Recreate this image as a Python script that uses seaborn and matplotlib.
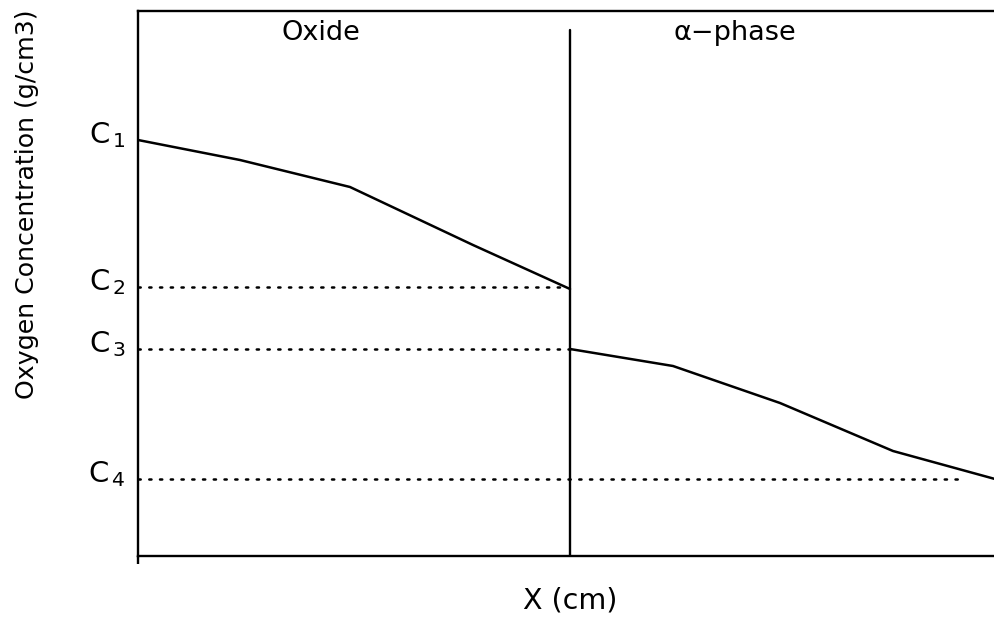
import matplotlib
matplotlib.use("Agg")
import matplotlib.pyplot as plt
import seaborn as sns
import pandas as pd

# Concentration profile across the oxide / alpha-phase layers
oxide_x = [0.0, 1.02, 2.12, 3.35, 4.32]
oxide_c = [4.16, 3.96, 3.69, 3.11, 2.67]
alpha_x = [4.32, 5.35, 6.42, 7.55, 8.57]
alpha_c = [2.07, 1.90, 1.53, 1.05, 0.77]

# Reference concentration levels and where their guide lines stop
levels = ["C1", "C2", "C3", "C4"]
level_values = [4.16, 2.69, 2.07, 0.77]
guide_ends = [None, 4.27, 4.32, 8.27]

interface_x = 4.32
region_labels = ["Oxide", "\u03b1\u2212phase"]
region_label_x = [1.83, 5.97]

sns.set_style("white")
plt.rcParams["font.family"] = ["DejaVu Sans"]
plt.rcParams["mathtext.fontset"] = "dejavusans"
plt.rcParams["text.color"] = "black"

fig = plt.figure(figsize=(9.95, 6.24), dpi=100)
ax = fig.add_axes([138 / 995, 68 / 624, 857 / 995, 545 / 624])

oxide = pd.DataFrame({"x": oxide_x, "c": oxide_c})
alpha = pd.DataFrame({"x": alpha_x, "c": alpha_c})
sns.lineplot(data=oxide, x="x", y="c", color="black", lw=1.8,
             sort=False, estimator=None, ax=ax)
sns.lineplot(data=alpha, x="x", y="c", color="black", lw=1.8,
             sort=False, estimator=None, ax=ax)

# Phase boundary
ax.plot([interface_x, interface_x], [0, 5.26], color="black", lw=1.7)

# Dotted guides for C2..C4
for val, end in zip(level_values, guide_ends):
    if end is None:
        continue
    ax.plot([0, end], [val, val], color="black", lw=1.8,
            linestyle=(0, (0.9, 3.4)), dash_capstyle="round")

# Level labels on the left
for name, val in zip(levels, level_values):
    ax.text(-0.12, val + 0.05, r"$\mathregular{C}_{\,\mathregular{%s}}$" % name[1:],
            ha="right", va="center", fontsize=21, color="black")

for lab, xpos in zip(region_labels, region_label_x):
    ax.text(xpos, 5.23, lab, ha="center", va="center", fontsize=19.5,
            color="black")

ax.set_xlim(0, 8.57)
ax.set_ylim(0, 5.45)
ax.set_xticks([0])
ax.set_xticklabels([""])
ax.set_yticks([])
ax.tick_params(axis="x", direction="out", length=6, width=1.7, color="black",
               bottom=True)
ax.set_xlabel("")
ax.set_ylabel("")
for side in ["left", "bottom", "top"]:
    ax.spines[side].set_color("black")
    ax.spines[side].set_linewidth(1.7)
ax.spines["right"].set_visible(False)

fig.text(570 / 995, 1 - 600 / 624, "X (cm)", ha="center", va="center",
         fontsize=20.5, color="black")
fig.text(27 / 995, 1 - 204 / 624, "Oxygen Concentration (g/cm3)",
         rotation=90, ha="center", va="center", fontsize=18.2, color="black")

fig.savefig("out.png", dpi=100)
